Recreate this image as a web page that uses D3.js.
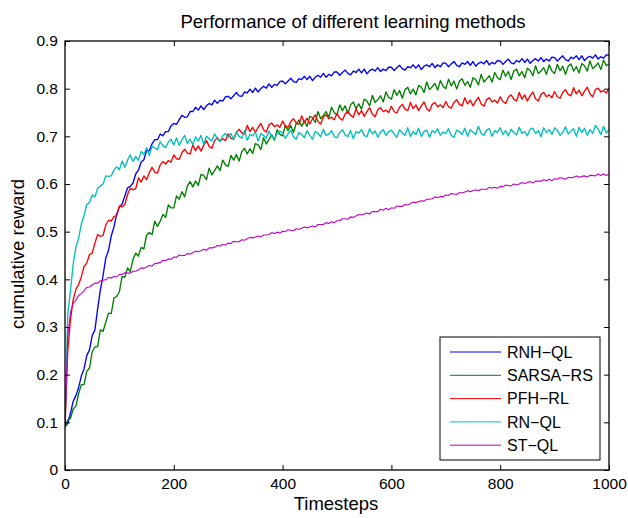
<!DOCTYPE html>
<html><head><meta charset="utf-8">
<script src="https://cdn.jsdelivr.net/npm/d3@7"></script>
<style>
html,body{margin:0;padding:0;background:#fff;}
text{font-family:"Liberation Sans",Arial,Helvetica,sans-serif;fill:#000;}
</style></head>
<body><svg id="chart" width="628" height="518"></svg>
<script>
const title = "Performance of different learning methods";
const xLabel = "Timesteps";
const yLabel = "cumulative reward";
const seriesNames = ["RNH\u2212QL", "SARSA\u2212RS", "PFH\u2212RL", "RN\u2212QL", "ST\u2212QL"];
const seriesColors = ["#0000ff", "#008000", "#ff0000", "#00bfbf", "#bf00bf"];
const xTicks = [0, 200, 400, 600, 800, 1000];
const xTickLabels = ["0", "200", "400", "600", "800", "1000"];
const yTicks = [0, 0.1, 0.2, 0.3, 0.4, 0.5, 0.6, 0.7, 0.8, 0.9];
const yTickLabels = ["0", "0.1", "0.2", "0.3", "0.4", "0.5", "0.6", "0.7", "0.8", "0.9"];
// sampled every 5 timesteps, 0..1000
const timesteps = d3.range(0, 1001, 5);

const rnhQL = [0.090,0.098,0.119,0.144,0.156,0.173,0.197,0.212,0.240,0.252,
0.282,0.294,0.338,0.378,0.408,0.445,0.461,0.491,0.510,0.537,
0.552,0.558,0.575,0.592,0.595,0.602,0.621,0.629,0.646,0.651,
0.670,0.670,0.684,0.693,0.693,0.705,0.701,0.710,0.710,0.722,
0.727,0.725,0.735,0.744,0.740,0.741,0.752,0.752,0.761,0.755,
0.764,0.756,0.764,0.769,0.766,0.776,0.769,0.776,0.774,0.783,
0.784,0.779,0.785,0.792,0.785,0.784,0.793,0.791,0.799,0.792,
0.801,0.793,0.800,0.805,0.801,0.810,0.803,0.809,0.807,0.815,
0.816,0.810,0.816,0.822,0.815,0.813,0.821,0.819,0.826,0.819,
0.826,0.817,0.824,0.828,0.824,0.832,0.824,0.830,0.827,0.835,
0.835,0.828,0.834,0.839,0.832,0.829,0.837,0.834,0.841,0.833,
0.841,0.831,0.838,0.841,0.837,0.844,0.836,0.841,0.838,0.845,
0.845,0.838,0.844,0.849,0.842,0.839,0.846,0.844,0.850,0.843,
0.850,0.840,0.847,0.850,0.846,0.853,0.844,0.850,0.846,0.854,
0.853,0.846,0.852,0.857,0.849,0.846,0.854,0.851,0.857,0.849,
0.857,0.847,0.853,0.856,0.852,0.859,0.850,0.855,0.852,0.859,
0.858,0.851,0.857,0.862,0.854,0.852,0.859,0.856,0.863,0.855,
0.862,0.853,0.859,0.863,0.858,0.865,0.857,0.862,0.858,0.866,
0.865,0.858,0.864,0.869,0.861,0.858,0.866,0.863,0.869,0.861,
0.869,0.859,0.865,0.868,0.864,0.871,0.862,0.867,0.864,0.871,
0.870];

const sarsaRS = [0.090,0.105,0.108,0.128,0.134,0.160,0.179,0.179,0.207,0.214,
0.248,0.258,0.259,0.294,0.291,0.310,0.329,0.328,0.361,0.364,
0.374,0.406,0.404,0.424,0.416,0.442,0.455,0.449,0.467,0.464,
0.493,0.498,0.494,0.522,0.511,0.522,0.536,0.530,0.556,0.550,
0.550,0.575,0.568,0.584,0.573,0.596,0.605,0.594,0.606,0.597,
0.620,0.618,0.609,0.633,0.619,0.628,0.638,0.628,0.650,0.640,
0.637,0.660,0.650,0.662,0.648,0.668,0.675,0.663,0.674,0.664,
0.685,0.682,0.672,0.697,0.684,0.693,0.703,0.692,0.714,0.704,
0.701,0.723,0.712,0.723,0.708,0.727,0.734,0.721,0.732,0.721,
0.742,0.739,0.729,0.752,0.737,0.744,0.752,0.740,0.761,0.750,
0.745,0.766,0.754,0.764,0.748,0.766,0.772,0.758,0.768,0.757,
0.778,0.774,0.764,0.786,0.771,0.777,0.785,0.772,0.793,0.782,
0.778,0.798,0.786,0.796,0.780,0.798,0.803,0.789,0.799,0.787,
0.807,0.803,0.792,0.814,0.798,0.804,0.811,0.797,0.817,0.805,
0.800,0.820,0.806,0.816,0.799,0.816,0.821,0.807,0.815,0.803,
0.823,0.819,0.808,0.830,0.814,0.820,0.827,0.814,0.834,0.823,
0.819,0.839,0.826,0.836,0.819,0.837,0.841,0.827,0.836,0.823,
0.843,0.838,0.827,0.848,0.832,0.837,0.844,0.830,0.850,0.837,
0.832,0.851,0.838,0.847,0.830,0.847,0.852,0.837,0.846,0.833,
0.853,0.848,0.837,0.858,0.842,0.847,0.854,0.840,0.860,0.848,
0.852];

const pfhRL = [0.090,0.248,0.315,0.357,0.379,0.389,0.405,0.427,0.434,0.452,
0.455,0.476,0.494,0.490,0.492,0.514,0.524,0.522,0.532,0.533,
0.554,0.552,0.557,0.578,0.591,0.588,0.590,0.613,0.604,0.617,
0.609,0.624,0.635,0.625,0.623,0.640,0.647,0.642,0.649,0.646,
0.661,0.653,0.652,0.666,0.673,0.665,0.663,0.682,0.670,0.680,
0.669,0.681,0.691,0.679,0.675,0.691,0.697,0.690,0.695,0.691,
0.705,0.696,0.694,0.708,0.715,0.707,0.705,0.723,0.710,0.719,
0.708,0.719,0.727,0.714,0.709,0.724,0.728,0.720,0.724,0.719,
0.732,0.722,0.719,0.731,0.737,0.728,0.725,0.743,0.729,0.738,
0.726,0.737,0.745,0.731,0.726,0.741,0.745,0.737,0.740,0.735,
0.748,0.738,0.734,0.747,0.753,0.744,0.740,0.758,0.745,0.754,
0.742,0.752,0.760,0.747,0.741,0.756,0.760,0.752,0.755,0.750,
0.763,0.752,0.749,0.761,0.767,0.757,0.754,0.771,0.758,0.766,
0.754,0.764,0.772,0.758,0.753,0.767,0.771,0.762,0.766,0.760,
0.773,0.762,0.759,0.771,0.777,0.767,0.764,0.781,0.768,0.776,
0.764,0.774,0.782,0.768,0.763,0.777,0.781,0.772,0.776,0.770,
0.783,0.773,0.769,0.782,0.787,0.778,0.774,0.792,0.778,0.787,
0.774,0.785,0.793,0.779,0.774,0.788,0.792,0.783,0.787,0.781,
0.794,0.783,0.780,0.792,0.798,0.788,0.785,0.802,0.789,0.797,
0.785,0.795,0.803,0.789,0.783,0.798,0.801,0.793,0.796,0.791,
0.800];

const rnQL = [0.090,0.326,0.375,0.432,0.467,0.486,0.516,0.534,0.557,0.561,
0.577,0.573,0.591,0.596,0.600,0.617,0.616,0.617,0.629,0.636,
0.630,0.648,0.635,0.650,0.661,0.647,0.658,0.650,0.668,0.662,
0.676,0.660,0.679,0.676,0.672,0.689,0.680,0.676,0.688,0.694,
0.682,0.697,0.681,0.693,0.702,0.685,0.694,0.683,0.699,0.690,
0.702,0.683,0.700,0.695,0.690,0.705,0.695,0.689,0.701,0.706,
0.698,0.706,0.693,0.709,0.700,0.696,0.712,0.692,0.704,0.701,
0.709,0.690,0.706,0.702,0.696,0.711,0.700,0.694,0.706,0.711,
0.707,0.696,0.705,0.713,0.699,0.694,0.708,0.704,0.697,0.712,
0.702,0.694,0.710,0.707,0.699,0.715,0.702,0.705,0.712,0.699,
0.697,0.708,0.714,0.703,0.699,0.712,0.695,0.710,0.707,0.714,
0.702,0.699,0.716,0.705,0.711,0.698,0.709,0.714,0.702,0.710,
0.713,0.705,0.698,0.714,0.707,0.702,0.718,0.700,0.710,0.704,
0.717,0.700,0.710,0.713,0.698,0.712,0.707,0.716,0.702,0.709,
0.706,0.716,0.702,0.698,0.713,0.710,0.704,0.717,0.700,0.714,
0.709,0.704,0.721,0.706,0.702,0.713,0.716,0.700,0.712,0.708,
0.718,0.704,0.712,0.701,0.715,0.708,0.703,0.719,0.706,0.710,
0.701,0.715,0.717,0.706,0.712,0.699,0.718,0.708,0.714,0.704,
0.718,0.713,0.702,0.708,0.720,0.705,0.711,0.716,0.700,0.719,
0.708,0.717,0.702,0.714,0.706,0.723,0.715,0.704,0.721,0.707,
0.714];

const stQL = [0.090,0.280,0.330,0.350,0.356,0.366,0.370,0.376,0.383,0.384,
0.388,0.392,0.392,0.397,0.398,0.399,0.404,0.403,0.406,0.405,
0.410,0.410,0.414,0.413,0.413,0.417,0.417,0.420,0.424,0.423,
0.426,0.429,0.428,0.433,0.434,0.435,0.440,0.439,0.443,0.442,
0.447,0.446,0.451,0.450,0.450,0.454,0.453,0.456,0.459,0.458,
0.460,0.463,0.461,0.466,0.466,0.467,0.471,0.470,0.473,0.472,
0.476,0.475,0.480,0.479,0.479,0.483,0.482,0.485,0.488,0.487,
0.489,0.491,0.489,0.493,0.493,0.494,0.498,0.496,0.499,0.497,
0.501,0.500,0.504,0.503,0.502,0.506,0.505,0.507,0.510,0.508,
0.510,0.512,0.510,0.515,0.515,0.515,0.519,0.517,0.521,0.519,
0.523,0.523,0.527,0.527,0.526,0.531,0.530,0.533,0.536,0.535,
0.537,0.539,0.537,0.542,0.542,0.542,0.547,0.545,0.549,0.546,
0.550,0.549,0.554,0.553,0.553,0.557,0.556,0.559,0.562,0.561,
0.563,0.565,0.564,0.568,0.568,0.569,0.573,0.571,0.574,0.573,
0.577,0.576,0.580,0.579,0.578,0.582,0.581,0.583,0.586,0.584,
0.586,0.588,0.586,0.589,0.589,0.589,0.593,0.591,0.593,0.591,
0.595,0.594,0.598,0.597,0.596,0.600,0.598,0.600,0.603,0.601,
0.603,0.605,0.602,0.606,0.606,0.606,0.609,0.607,0.610,0.607,
0.611,0.610,0.613,0.612,0.610,0.614,0.613,0.614,0.617,0.614,
0.616,0.617,0.615,0.618,0.618,0.617,0.621,0.618,0.621,0.618,
0.621];

const seriesValues = [rnhQL, sarsaRS, pfhRL, rnQL, stQL];

const svg = d3.select("#chart");
const M = {left: 65, right: 609, top: 41, bottom: 470};
const x = d3.scaleLinear().domain([0, 1000]).range([M.left, M.right]);
const y = d3.scaleLinear().domain([0, 0.9]).range([M.bottom, M.top]);

svg.append("rect").attr("width", 628).attr("height", 518).attr("fill", "#fff");

// lines
const line = d3.line().x((d, i) => x(timesteps[i])).y(d => y(d));
svg.append("clipPath").attr("id", "clip").append("rect")
  .attr("x", M.left).attr("y", M.top).attr("width", M.right - M.left).attr("height", M.bottom - M.top);
const gLines = svg.append("g").attr("clip-path", "url(#clip)");
seriesValues.forEach((vals, k) => {
  gLines.append("path").datum(vals).attr("d", line)
    .attr("fill", "none").attr("stroke", seriesColors[k])
    .attr("stroke-width", k === 4 ? 1.1 : 1.35).attr("stroke-linejoin", "round");
});

// axes (ticks pointing inward, MATLAB style)
const tickFont = "15.5px";
const gx = svg.append("g").attr("transform", `translate(0,${M.bottom})`)
  .call(d3.axisBottom(x).tickValues(xTicks).tickFormat((d, i) => xTickLabels[i]).tickSize(-5).tickSizeOuter(0).tickPadding(8));
const gxt = svg.append("g").attr("transform", `translate(0,${M.top})`)
  .call(d3.axisTop(x).tickValues(xTicks).tickFormat("").tickSize(-5).tickSizeOuter(0));
const gy = svg.append("g").attr("transform", `translate(${M.left},0)`)
  .call(d3.axisLeft(y).tickValues(yTicks).tickFormat((d, i) => yTickLabels[i]).tickSize(-5).tickSizeOuter(0).tickPadding(7));
const gyr = svg.append("g").attr("transform", `translate(${M.right},0)`)
  .call(d3.axisRight(y).tickValues(yTicks).tickFormat("").tickSize(-5).tickSizeOuter(0));
[gx, gxt, gy, gyr].forEach(g => {
  g.select(".domain").remove();
  g.selectAll(".tick line").attr("stroke", "#000").attr("stroke-width", 1);
  g.selectAll("text").attr("font-size", tickFont).attr("fill", "#000")
    .style("font-family", "'Liberation Sans', Arial, Helvetica, sans-serif");
});

svg.append("rect").attr("x", M.left).attr("y", M.top)
  .attr("width", M.right - M.left).attr("height", M.bottom - M.top)
  .attr("fill", "none").attr("stroke", "#000").attr("stroke-width", 1.3);

// title and labels
svg.append("text").attr("x", 353).attr("y", 28).attr("text-anchor", "middle")
  .attr("font-size", "18.5px").text(title);
svg.append("text").attr("x", 336).attr("y", 510).attr("text-anchor", "middle")
  .attr("font-size", "18.5px").text(xLabel);
svg.append("text").attr("transform", "translate(24,254) rotate(-90)").attr("text-anchor", "middle")
  .attr("font-size", "18.5px").text(yLabel);

// legend
const lg = svg.append("g");
lg.append("rect").attr("x", 440).attr("y", 337).attr("width", 160).attr("height", 123)
  .attr("fill", "#fff").attr("stroke", "#000").attr("stroke-width", 1);
seriesNames.forEach((name, k) => {
  const yy = 352 + k * 23.3;
  lg.append("line").attr("x1", 450).attr("x2", 501).attr("y1", yy).attr("y2", yy)
    .attr("stroke", seriesColors[k]).attr("stroke-width", 1);
  lg.append("text").attr("x", 507).attr("y", yy).attr("dy", "0.36em")
    .attr("font-size", "16px").text(name);
});
</script></body></html>
